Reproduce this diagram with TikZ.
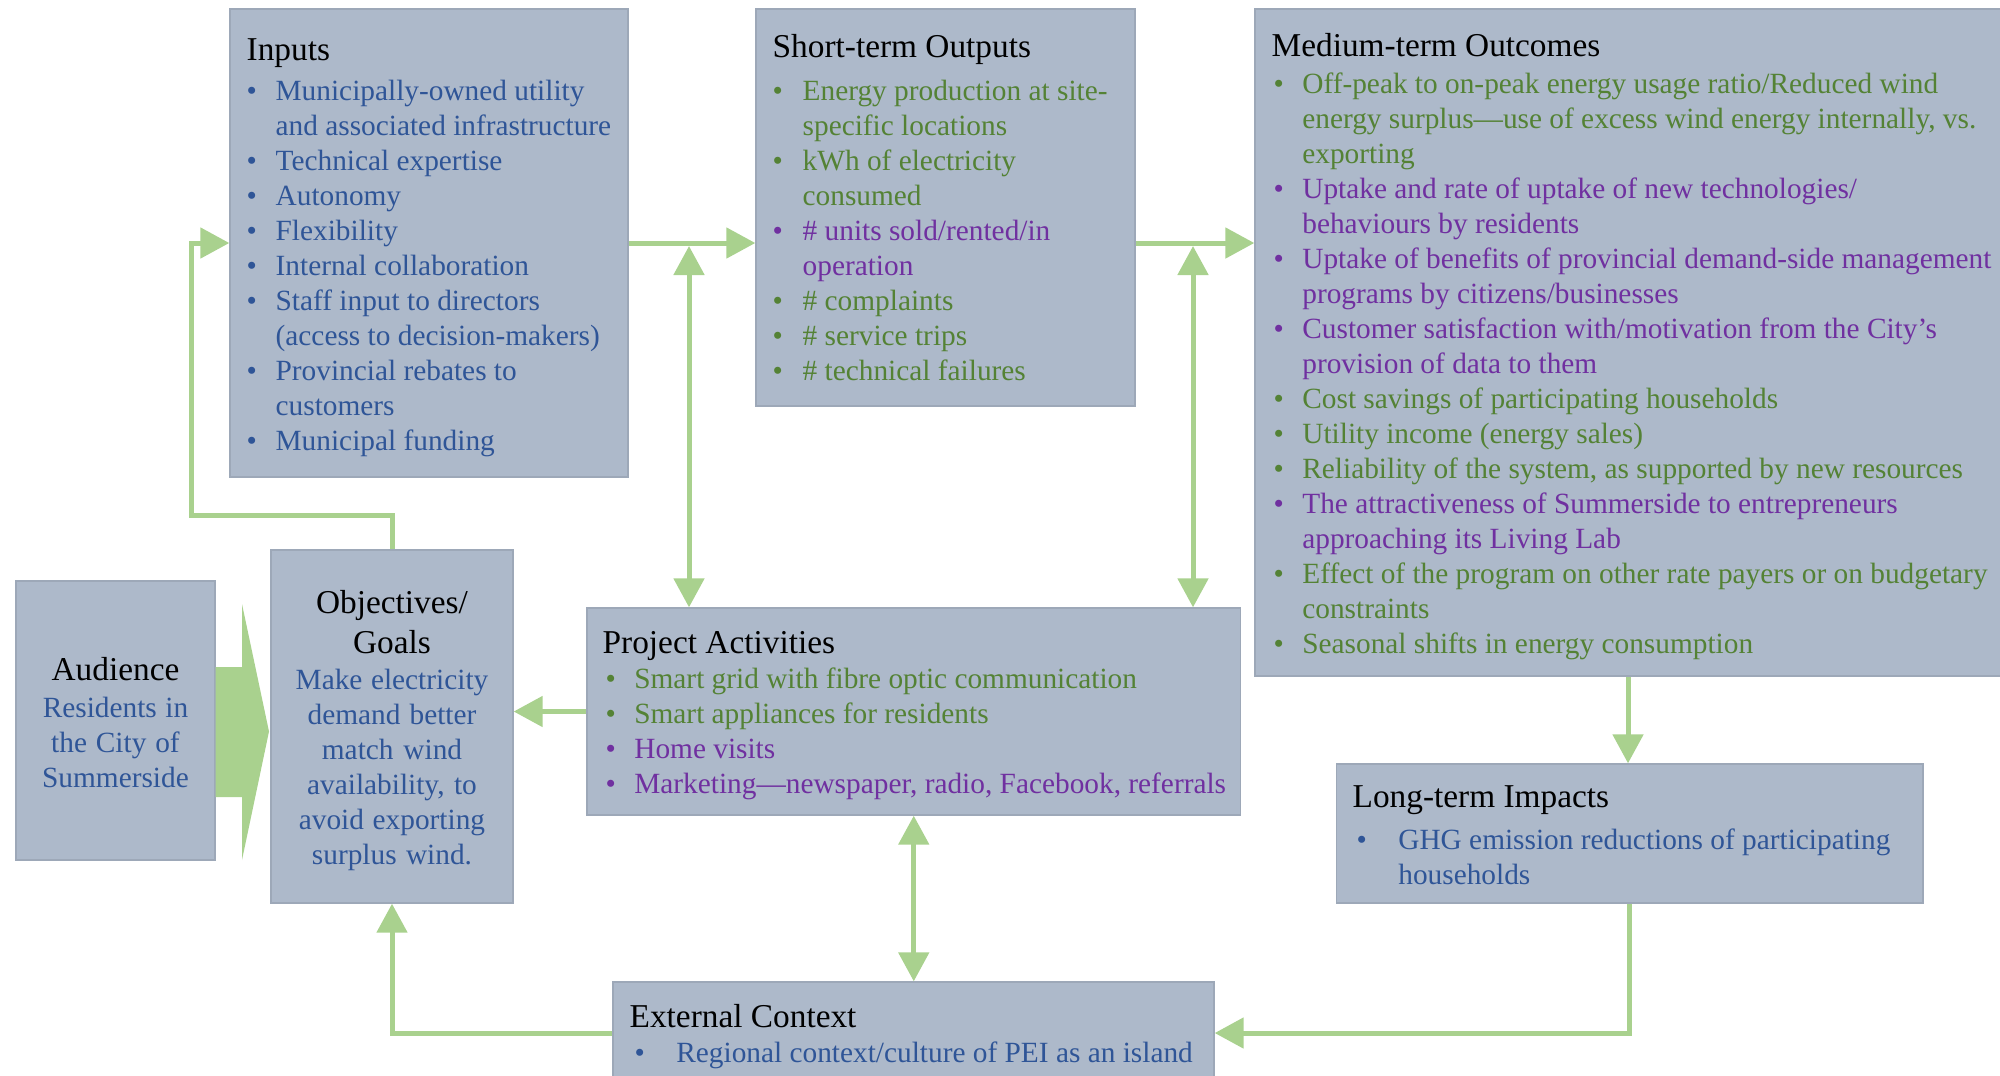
\documentclass[tikz,border=0pt]{standalone}
\usepackage{fontspec}
\setmainfont{Liberation Serif}
\usetikzlibrary{arrows.meta,fit}
\definecolor{boxfill}{HTML}{ADB9CA}
\definecolor{boxline}{HTML}{9DA8B8}
\definecolor{agreen}{HTML}{A9D18E}
\definecolor{tblue}{HTML}{2F5597}
\definecolor{tgreen}{HTML}{548235}
\definecolor{tpurple}{HTML}{7030A0}
\newcommand\bodysz{\fontsize{8.8}{10.5}\selectfont}
\newcommand\tsp{\spaceskip=0.25em plus 0.1em minus 0.03em\xspaceskip=0.3em\relax}
\newcommand\bitem[3]{\tsp\noindent\hangindent=#1\hangafter=1\makebox[#1][l]{\textcolor{#2}{\textbullet}}\strut\textcolor{#2}{#3}\par}
\begin{document}
\begin{tikzpicture}[x=0.3pt,y=-0.3pt,
  box/.style={draw=boxline,line width=0.4pt,fill=boxfill,inner sep=0pt},
  hdr/.style={font=\fontsize{10}{12}\selectfont,inner sep=0pt,anchor=base west},
  lst/.style={font=\bodysz,inner sep=0pt,anchor=north west,text width=240pt,align=left},
  ctr/.style={font=\bodysz,inner sep=0pt,anchor=north,align=center},
  chdr/.style={font=\fontsize{10}{12}\selectfont,inner sep=0pt,anchor=north,align=center},
  conn/.style={draw=agreen,line width=1.5pt},
  >={Triangle[length=8.7pt,width=9pt]}]
\useasboundingbox (0,0) rectangle (2000,1075);

% boxes
\node[box,fit={(230,9) (628,477)}] (inputs) {};
\node[box,fit={(756,9) (1135,406)}] (short) {};
\node[box,fit={(1255,9) (2001,676)}] (medium) {};
\node[box,fit={(16,581) (215,860)}] (aud) {};
\node[box,fit={(271,550) (513,903)}] (obj) {};
\node[box,fit={(587,608) (1240.5,815)}] (proj) {};
\node[box,fit={(1336.5,764) (1923,903)}] (long) {};
\node[box,fit={(613,982) (1214,1084)}] (ext) {};

% Inputs
\node[hdr] (inputsh) at (246,60) {Inputs};
\node[lst] (inputsl) at (246,75.5) {%
\bitem{8.7pt}{tblue}{Municipally-owned utility\newline and associated infrastructure}%
\bitem{8.7pt}{tblue}{Technical expertise}%
\bitem{8.7pt}{tblue}{Autonomy}%
\bitem{8.7pt}{tblue}{Flexibility}%
\bitem{8.7pt}{tblue}{Internal collaboration}%
\bitem{8.7pt}{tblue}{Staff input to directors\newline (access to decision-makers)}%
\bitem{8.7pt}{tblue}{Provincial rebates to\newline customers}%
\bitem{8.7pt}{tblue}{Municipal funding}};

% Short-term
\node[hdr] (shorth) at (772,57) {Short-term Outputs};
\node[lst] (shortl) at (772,75.5) {%
\bitem{9pt}{tgreen}{Energy production at site-\newline specific locations}%
\bitem{9pt}{tgreen}{kWh of electricity\newline consumed}%
\bitem{9pt}{tpurple}{\# units sold/rented/in\newline operation}%
\bitem{9pt}{tgreen}{\# complaints}%
\bitem{9pt}{tgreen}{\# service trips}%
\bitem{9pt}{tgreen}{\# technical failures}};

% Medium-term
\node[hdr] (mediumh) at (1271,56) {Medium-term Outcomes};
\node[lst] (mediuml) at (1273,68.5) {%
\bitem{8.6pt}{tgreen}{Off-peak to on-peak energy usage ratio/Reduced wind\newline energy surplus—use of excess wind energy internally, vs.\newline exporting}%
\bitem{8.6pt}{tpurple}{Uptake and rate of uptake of new technologies/\newline behaviours by residents}%
\bitem{8.6pt}{tpurple}{Uptake of benefits of provincial demand-side management\newline programs by citizens/businesses}%
\bitem{8.6pt}{tpurple}{Customer satisfaction with/motivation from the City’s\newline provision of data to them}%
\bitem{8.6pt}{tgreen}{Cost savings of participating households}%
\bitem{8.6pt}{tgreen}{Utility income (energy sales)}%
\bitem{8.6pt}{tgreen}{Reliability of the system, as supported by new resources}%
\bitem{8.6pt}{tpurple}{The attractiveness of Summerside to entrepreneurs\newline approaching its Living Lab}%
\bitem{8.6pt}{tgreen}{Effect of the program on other rate payers or on budgetary\newline constraints}%
\bitem{8.6pt}{tgreen}{Seasonal shifts in energy consumption}};

% Project Activities
\node[hdr] (projh) at (602,653) {Project Activities};
\node[lst] (projl) at (605,663.5) {%
\bitem{8.6pt}{tgreen}{Smart grid with fibre optic communication}%
\bitem{8.6pt}{tgreen}{Smart appliances for residents}%
\bitem{8.6pt}{tpurple}{Home visits}%
\bitem{8.6pt}{tpurple}{Marketing—newspaper, radio, Facebook, referrals}};

% Long-term
\node[hdr] (longh) at (1352,807) {Long-term Impacts};
\node[lst] (longl) at (1356,824.5) {%
\bitem{12.5pt}{tblue}{GHG emission reductions of participating\newline households}};

% External
\node[hdr] (exth) at (629,1027) {External Context};
\node[lst] (extl) at (634,1037.5) {%
\bitem{12.5pt}{tblue}{Regional context/culture of PEI as an island}};

% Audience
\node[chdr,anchor=base] (audh) at (115.5,680) {Audience};
\node[ctr,text width=57pt] (audt) at (115.5,692.5) {\tsp\strut\color{tblue}Residents in\\the City of\\Summerside};

% Objectives
\node[chdr,text width=72pt] (objh) at (392,585) {\strut Objectives/\\Goals};
\node[ctr,text width=72pt] (objt) at (392,664.5) {\tsp\strut\color{tblue}Make electricity\\demand better\\match wind\\availability, to\\avoid exporting\\surplus wind.};

% big arrow audience -> objectives
\fill[agreen] (aud.east |- 0,667) -- (242,667) -- (242,604) -- (269,731.5) -- (242,860) -- (242,797) -- (aud.east |- 0,797) -- cycle;

% connectors
\coordinate (loop) at (191,515);
\draw[conn,->] (obj.north) |- (loop) |- (inputs.west);
\draw[conn,->] (inputs.east) -- (inputs.east -| short.west);
\draw[conn,->] (short.east |- inputs.east) -- (medium.west |- inputs.east);
\coordinate (j1) at (689,246);
\coordinate (j2) at (1193,246);
\draw[conn,<->] (j1) -- (j1 |- proj.north);
\draw[conn,<->] (j2) -- (j2 |- proj.north);
\draw[conn,->] (proj.west) -- (proj.west -| obj.east);
\draw[conn,<->] (proj.south) -- (proj.south |- ext.north);
\draw[conn,->] (medium.south) -- (medium.south |- long.north);
\draw[conn,->] (long.south) |- (ext.east);
\draw[conn,->] (ext.west) -| (obj.south);
\end{tikzpicture}
\end{document}
